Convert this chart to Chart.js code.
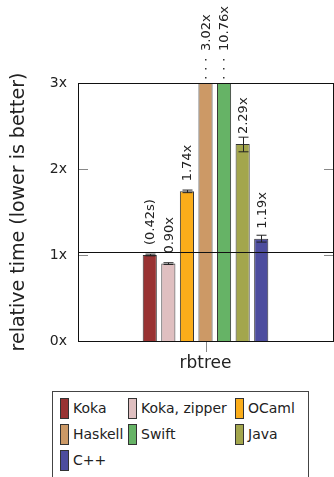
<!DOCTYPE html>
<html>
<head>
<meta charset="utf-8">
<script src="https://cdn.jsdelivr.net/npm/chart.js@4"></script>
<style>
  body { margin: 0; background: #fff; font-family: "DejaVu Sans", sans-serif; }
  #wrap { position: relative; width: 334px; height: 477px; overflow: hidden; }
  #chartBox { position: absolute; left: 0; top: 0; width: 334px; height: 385px; }
  #legend {
    position: absolute; left: 52px; top: 391px; width: 248px; height: 100px;
    border: 1px solid #444; padding: 5px 0 0 7px;
    display: grid; grid-template-columns: 68px 107px auto; row-gap: 4px;
    align-content: start;
    font-size: 14px; color: #222;
  }
  .item { display: flex; align-items: center; height: 22px; }
  .sw { width: 9px; height: 21px; border: 1px solid #333; margin-right: 4px; box-sizing: border-box; }
</style>
</head>
<body>
<div id="wrap">
  <div id="chartBox"><canvas id="myChart"></canvas></div>
  <div id="legend"></div>
</div>
<script>
const categories = ['rbtree'];
const systems = ['Koka', 'Koka, zipper', 'OCaml', 'Haskell', 'Swift', 'Java', 'C++'];
const values = [1.00, 0.90, 1.74, 3.02, 10.76, 2.29, 1.19];
const errLow = [0.99, 0.89, 1.725, 3.02, 10.76, 2.20, 1.15];
const errHigh = [1.01, 0.91, 1.755, 3.02, 10.76, 2.37, 1.23];
const labels = ['(0.42s)', '0.90x', '1.74x', '3.02x', '10.76x', '2.29x', '1.19x'];
const colors = ['#993333', '#dfbfc0', '#fbad1a', '#cc9966', '#66b366', '#a3a64d', '#4d4d9e'];
const yTicks = [0, 1, 2, 3];
const yMax = 3;
const refLine = 1.04;

// frame, inner ticks, reference line
const framePlugin = {
  id: 'frame',
  afterDraw(chart) {
    const ctx = chart.ctx, a = chart.chartArea;
    const y = chart.scales.y, x = chart.scales.x;
    ctx.save();
    ctx.strokeStyle = '#888';
    ctx.lineWidth = 1;
    yTicks.forEach(t => {
      const py = Math.round(y.getPixelForValue(t)) + 0.5;
      ctx.beginPath();
      ctx.moveTo(a.left, py); ctx.lineTo(a.left + 10, py);
      ctx.moveTo(a.right - 9, py); ctx.lineTo(a.right, py);
      ctx.stroke();
    });
    const px = Math.round(x.getPixelForValue(0)) + 0.5;
    ctx.beginPath();
    ctx.moveTo(px, a.bottom); ctx.lineTo(px, a.bottom + 11);
    ctx.stroke();
    ctx.strokeStyle = '#111';
    const ry = Math.round(y.getPixelForValue(refLine)) + 0.5;
    ctx.beginPath();
    ctx.moveTo(a.left, ry); ctx.lineTo(a.right, ry);
    ctx.stroke();
    ctx.strokeRect(Math.round(a.left) + 0.5, Math.round(a.top) + 0.5,
      Math.round(a.right - a.left), Math.round(a.bottom - a.top));
    ctx.restore();
  }
};

// error bars and rotated value labels
const labelPlugin = {
  id: 'barLabels',
  afterDatasetsDraw(chart) {
    const ctx = chart.ctx, a = chart.chartArea, y = chart.scales.y;
    ctx.save();
    chart.data.datasets.forEach((ds, i) => {
      const bar = chart.getDatasetMeta(i).data[0];
      const v = values[i];
      ctx.strokeStyle = '#222';
      ctx.lineWidth = 1;
      if (v <= yMax) {
        const lo = y.getPixelForValue(errLow[i]), hi = y.getPixelForValue(errHigh[i]);
        const cx = Math.round(bar.x) + 0.5;
        ctx.beginPath();
        ctx.moveTo(cx, lo); ctx.lineTo(cx, hi);
        ctx.moveTo(cx - 5, lo); ctx.lineTo(cx + 5, lo);
        ctx.moveTo(cx - 5, hi); ctx.lineTo(cx + 5, hi);
        ctx.stroke();
      }
      let base;
      if (v > yMax) {
        ctx.fillStyle = '#333';
        for (let k = 0; k < 3; k++) {
          ctx.fillRect(Math.round(bar.x) - 1, a.top - 6 - k * 9, 1.5, 1.5);
        }
        base = a.top - 32;
      } else {
        base = y.getPixelForValue(v) - 10;
      }
      ctx.save();
      ctx.translate(bar.x + 1, base);
      ctx.rotate(-Math.PI / 2);
      ctx.fillStyle = '#222';
      ctx.font = '13px "DejaVu Sans"';
      ctx.textAlign = 'left';
      ctx.textBaseline = 'middle';
      ctx.fillText(labels[i], 0, 0);
      ctx.restore();
    });
    ctx.restore();
  }
};

const datasets = systems.map((name, i) => ({
  label: name,
  data: [values[i]],
  backgroundColor: colors[i],
  borderColor: '#333',
  borderWidth: 1,
  categoryPercentage: 0.51,
  barPercentage: 0.76
}));

const config = {
  type: 'bar',
  data: { labels: categories, datasets: datasets },
  options: {
    responsive: false,
    animation: false,
    layout: { padding: { top: 83, right: 1, left: 0, bottom: 0 } },
    plugins: { legend: { display: false }, tooltip: { enabled: false } },
    scales: {
      x: {
        grid: { display: false, drawTicks: false },
        border: { display: false },
        ticks: { color: '#222', font: { family: 'DejaVu Sans', size: 17 }, padding: 12 },
        afterFit(s) { s.height = 44; }
      },
      y: {
        min: 0, max: yMax,
        grid: { display: false, drawTicks: false },
        border: { display: false },
        afterBuildTicks(s) { s.ticks = yTicks.map(v => ({ value: v })); },
        ticks: {
          color: '#222', font: { family: 'DejaVu Sans', size: 14 }, padding: 11,
          callback: v => v + 'x'
        },
        title: {
          display: true, text: 'relative time (lower is better)', color: '#222',
          font: { family: 'DejaVu Sans', size: 19 }, padding: { top: 8, bottom: 0 }
        },
        afterFit(s) { s.width = 78; }
      }
    }
  },
  plugins: [framePlugin, labelPlugin]
};

const canvas = document.getElementById('myChart');
canvas.width = 334; canvas.height = 385;
const myChart = new Chart(canvas, config);

const legend = document.getElementById('legend');
systems.forEach((name, i) => {
  const item = document.createElement('div');
  item.className = 'item';
  item.innerHTML = '<span class="sw" style="background:' + colors[i] + '"></span>' + name;
  legend.appendChild(item);
});
</script>
</body>
</html>
